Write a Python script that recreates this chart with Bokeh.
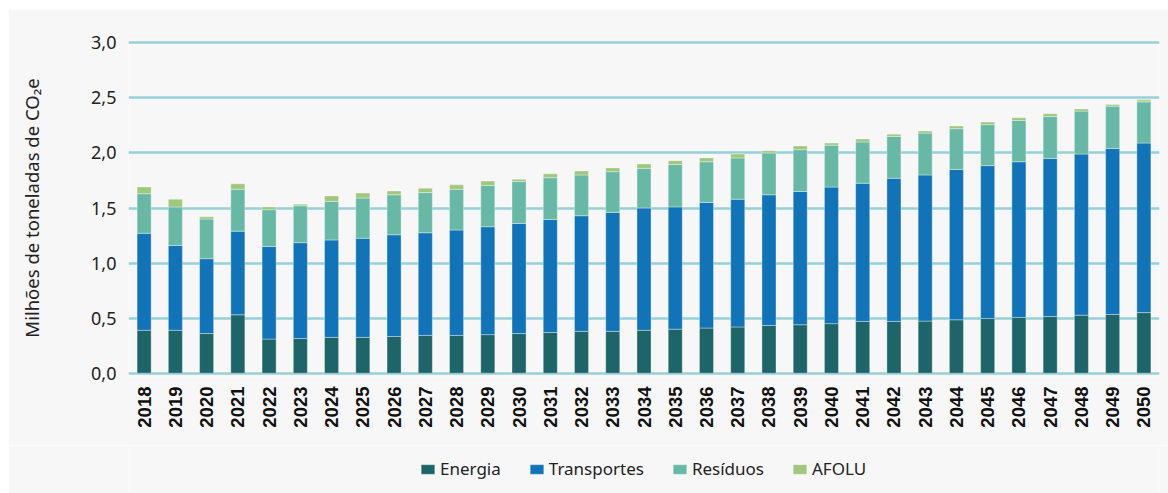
from bokeh.plotting import figure
from bokeh.layouts import column
from bokeh.models import (ColumnDataSource, FactorRange, Range1d, FixedTicker,
                          CustomJSTickFormatter, Legend)
from bokeh.embed import file_html
from bokeh.resources import INLINE
import math

years = [str(y) for y in range(2018, 2051)]
series = ["Energia", "Transportes", "Resíduos", "AFOLU"]
energia = [0.39, 0.39, 0.36, 0.53, 0.31, 0.315, 0.325, 0.325, 0.333, 0.343, 0.343,
           0.35, 0.36, 0.37, 0.38, 0.38, 0.39, 0.40, 0.41, 0.42, 0.433, 0.44, 0.45,
           0.47, 0.47, 0.473, 0.485, 0.497, 0.506, 0.515, 0.527, 0.533, 0.55]
transportes = [0.88, 0.77, 0.68, 0.76, 0.84, 0.87, 0.885, 0.90, 0.924, 0.932, 0.957,
               0.98, 1.00, 1.025, 1.05, 1.08, 1.11, 1.11, 1.14, 1.16, 1.187, 1.21, 1.24,
               1.255, 1.30, 1.327, 1.365, 1.388, 1.414, 1.435, 1.463, 1.507, 1.54]
residuos = [0.36, 0.35, 0.36, 0.38, 0.335, 0.335, 0.35, 0.365, 0.363, 0.365, 0.37,
            0.375, 0.38, 0.38, 0.37, 0.37, 0.36, 0.385, 0.37, 0.375, 0.38, 0.38, 0.38,
            0.375, 0.38, 0.38, 0.37, 0.372, 0.375, 0.38, 0.39, 0.385, 0.374]
afolu = [0.06, 0.07, 0.02, 0.05, 0.025, 0.015, 0.05, 0.046, 0.035, 0.04, 0.04,
         0.04, 0.02, 0.035, 0.036, 0.034, 0.04, 0.035, 0.035, 0.035, 0.02, 0.034, 0.02,
         0.027, 0.02, 0.02, 0.025, 0.023, 0.025, 0.025, 0.02, 0.015, 0.018]
y_ticks = [0.0, 0.5, 1.0, 1.5, 2.0, 2.5, 3.0]
y_label = "Milhões de toneladas de CO₂e"
colors = ["#1d6569", "#1174b8", "#67b9a6", "#a0c87c"]

source = ColumnDataSource(dict(year=years, Energia=energia, Transportes=transportes,
                               **{"Resíduos": residuos}, AFOLU=afolu))

BG = "#f7f7f7"
FONT = "Noto Sans"
BAR_STYLE = dict(width=0.45, line_color="white", line_alpha=0.35, line_width=1)

# ---- main chart ----
p = figure(x_range=FactorRange(*years, range_padding=0),
           y_range=Range1d(-0.03, 3.03),
           width=1160, height=436, output_backend="svg", toolbar_location=None,
           min_border_left=120, min_border_right=9, min_border_top=30,
           min_border_bottom=69)
p.background_fill_color = BG
p.border_fill_color = BG
p.outline_line_color = None

p.vbar_stack(series, x="year", color=colors, source=source, **BAR_STYLE)

p.xgrid.grid_line_color = None
p.ygrid.grid_line_color = "#97d0d6"
p.ygrid.grid_line_width = 2.5
p.ygrid.ticker = FixedTicker(ticks=y_ticks)

p.yaxis.ticker = FixedTicker(ticks=y_ticks)
p.yaxis.formatter = CustomJSTickFormatter(code="return tick.toFixed(1).replace('.', ',');")
p.yaxis.axis_line_color = None
p.yaxis.major_tick_line_color = None
p.yaxis.minor_tick_line_color = None
p.yaxis.major_label_standoff = 6
p.yaxis.major_label_text_font = FONT
p.yaxis.major_label_text_font_size = "18px"
p.yaxis.major_label_text_color = "#222222"
p.yaxis.axis_label = y_label
p.yaxis.axis_label_text_font = FONT
p.yaxis.axis_label_text_font_size = "18.5px"
p.yaxis.axis_label_text_font_style = "normal"
p.yaxis.axis_label_text_color = "#222222"
p.yaxis.axis_label_standoff = 44

p.xaxis.axis_line_color = None
p.xaxis.major_tick_line_color = None
p.xaxis.minor_tick_line_color = None
p.xaxis.major_label_orientation = math.pi / 2
p.xaxis.major_label_standoff = 4
p.xaxis.major_label_text_font = "Liberation Sans"
p.xaxis.major_label_text_font_style = "bold"
p.xaxis.major_label_text_font_size = "18.5px"
p.xaxis.major_label_text_color = "#111111"

# ---- legend strip (same stacked series, scrolled out of view) ----
lg = figure(width=1160, height=48, x_range=FactorRange(*years, range_padding=0),
            y_range=Range1d(10, 11),
            output_backend="svg", toolbar_location=None,
            x_axis_location=None, y_axis_location=None,
            min_border_left=0, min_border_right=0, min_border_top=0,
            min_border_bottom=0)
lg.background_fill_color = BG
lg.border_fill_color = BG
lg.outline_line_color = None
lg.grid.visible = False
lg_renderers = lg.vbar_stack(series, x="year", color=colors, source=source, **BAR_STYLE)

legend = Legend(items=[(s, [r]) for s, r in zip(series, lg_renderers)],
                orientation="horizontal", location=(291, 13),
                padding=0, margin=0, spacing=27, label_standoff=4,
                glyph_width=17, glyph_height=12,
                label_text_font=FONT, label_text_font_size="17px",
                label_text_color="#222222",
                border_line_color=None, background_fill_alpha=0)
lg.add_layout(legend, "center")

layout = column(p, lg, spacing=0)
layout.margin = (9, 0, 0, 8)

open("out.html", "w").write(file_html(layout, INLINE))
